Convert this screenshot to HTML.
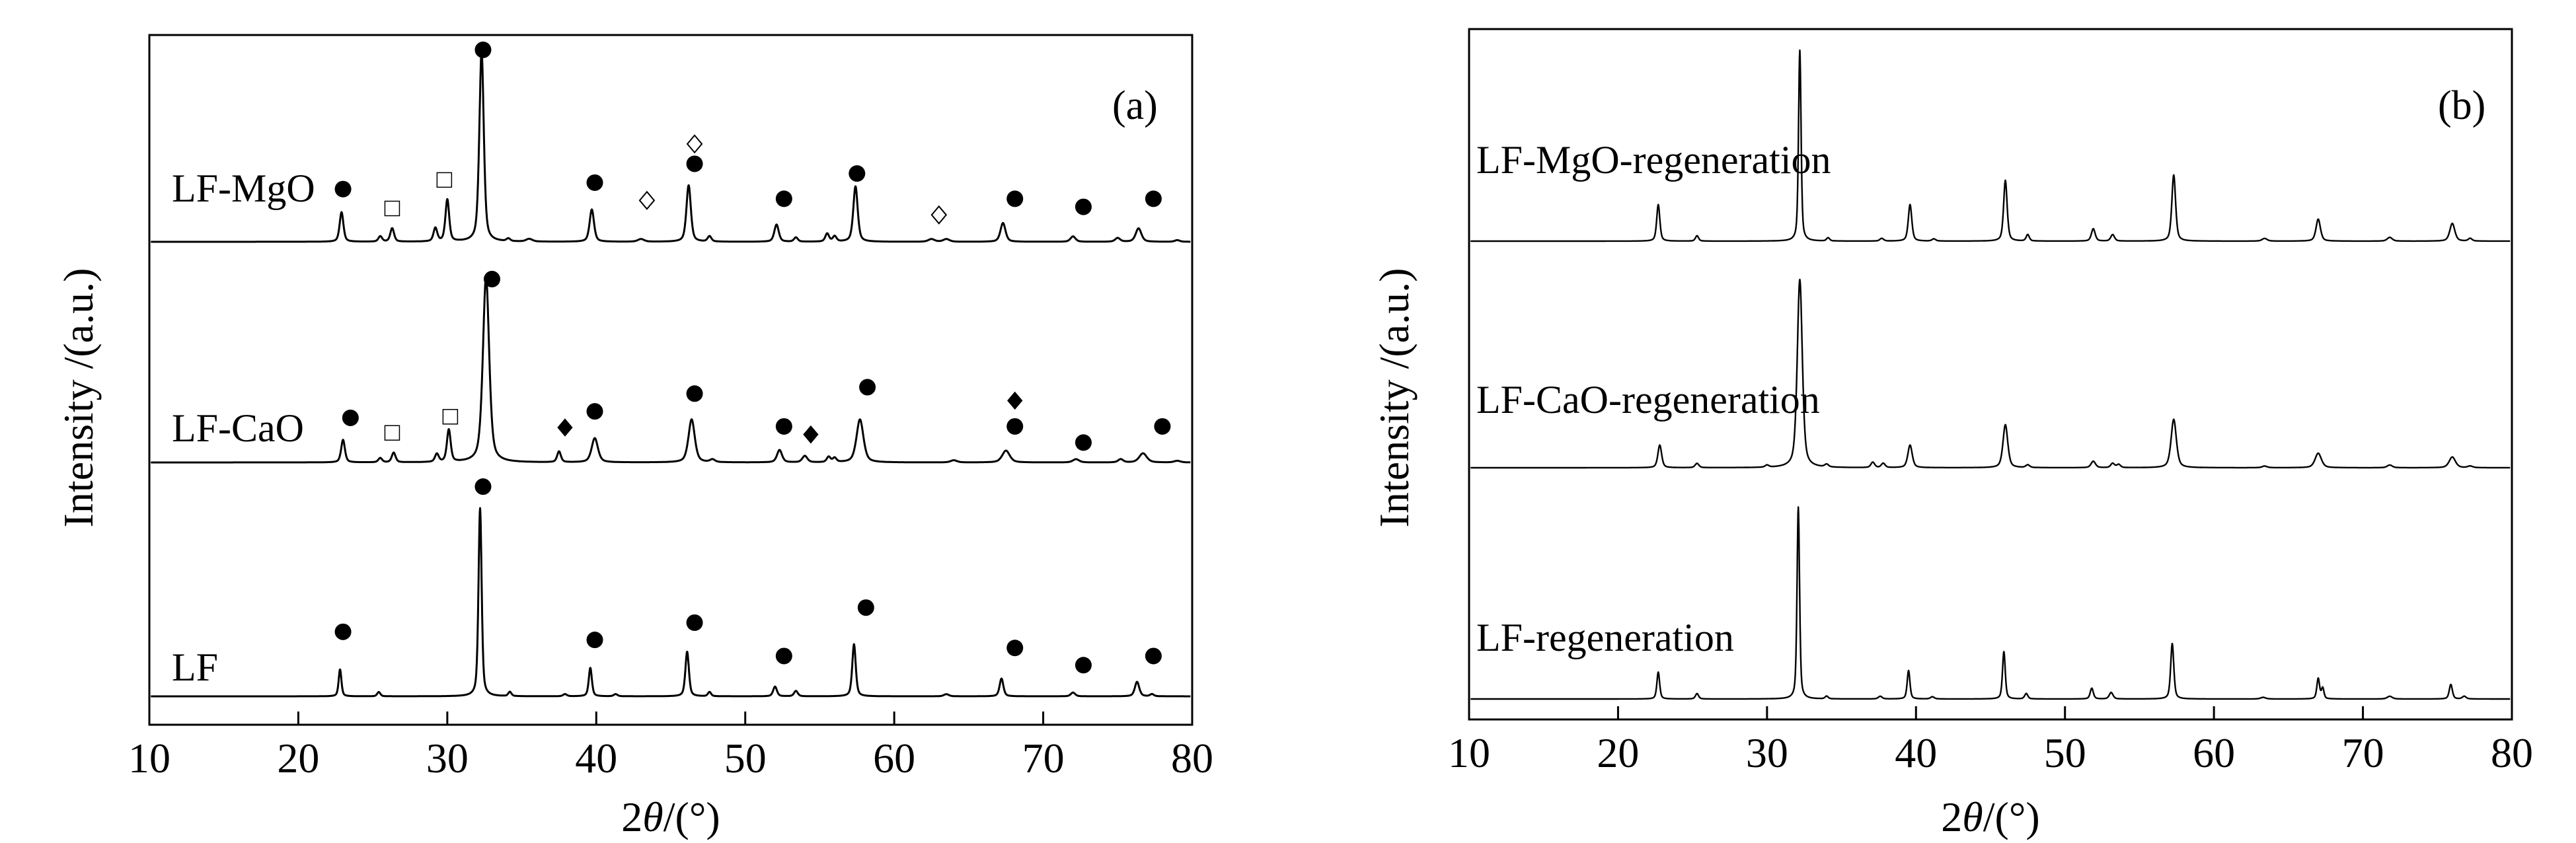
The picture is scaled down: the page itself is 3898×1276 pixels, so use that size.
<!DOCTYPE html>
<html><head><meta charset="utf-8"><style>
html,body{margin:0;padding:0;background:#fff;}
svg{display:block;}
text{font-family:"Liberation Serif",serif;fill:#000;}
</style></head><body>
<svg id="chart" width="3898" height="1276" viewBox="0 0 3898 1276" xmlns="http://www.w3.org/2000/svg">
<g id="pa"></g>
<g id="pb"></g>
</svg>
<script>
// ---- data (2θ positions in degrees; intensities in a.u.; widths FWHM deg) ----
const xTicks = [10,20,30,40,50,60,70,80];
const xTickLabels = ["10","20","30","40","50","60","70","80"];

const mgoPos = [22.9,25.5,26.3,29.2,30.0,32.3,34.1,35.5,39.7,43.0,46.2,47.6,52.1,53.4,55.5,56.0,57.4,62.5,63.5,67.3,72.0,75.0,76.4,79.0];
const mgoInt = [55,10,25,25,78,355,5,5,60,5,105,10,32,8,15,10,103,5,5,35,10,7,25,3];
const mgoWid = [0.3,0.3,0.3,0.3,0.3,0.35,0.3,0.5,0.35,0.5,0.35,0.3,0.35,0.3,0.3,0.3,0.35,0.5,0.5,0.4,0.4,0.4,0.45,0.4];

const caoPos = [23.0,25.5,26.4,29.3,30.1,32.6,37.5,39.9,46.4,47.8,52.3,54.0,55.6,56.0,57.7,64.0,67.5,72.2,75.2,76.7,79.0];
const caoInt = [42,8,18,15,60,345,20,45,80,5,23,12,10,8,80,4,22,6,6,17,3];
const caoWid = [0.3,0.3,0.3,0.3,0.3,0.5,0.3,0.5,0.5,0.4,0.4,0.4,0.3,0.3,0.55,0.5,0.6,0.5,0.4,0.6,0.5];

const lfPos = [22.8,25.4,32.2,34.2,37.9,39.6,41.3,46.1,47.6,52.0,53.4,57.3,63.5,67.2,72.0,76.3,77.3];
const lfInt = [50,8,350,8,4,53,4,83,8,18,10,97,4,33,7,27,4];
const lfWid = [0.22,0.25,0.25,0.25,0.3,0.25,0.3,0.28,0.25,0.3,0.3,0.28,0.4,0.3,0.35,0.35,0.3];

const mgoRPos = [22.7,25.3,32.2,34.1,37.7,39.6,41.2,46.0,47.5,51.9,53.2,57.3,63.4,67.0,71.8,76.0,77.2];
const mgoRInt = [68,10,355,6,5,68,4,113,12,23,12,123,5,41,7,33,5];
const mgoRWid = [0.25,0.25,0.2,0.25,0.3,0.28,0.3,0.28,0.25,0.3,0.3,0.3,0.4,0.35,0.4,0.4,0.3];

const caoRPos = [22.8,25.3,30.0,32.2,34.0,37.1,37.8,39.6,46.0,47.5,51.9,53.2,53.6,57.3,63.4,67.0,71.8,76.0,77.2];
const caoRInt = [42,8,4,350,5,10,8,42,80,5,12,8,6,90,3,27,5,20,3];
const caoRWid = [0.3,0.3,0.3,0.4,0.3,0.3,0.3,0.35,0.38,0.3,0.35,0.3,0.3,0.42,0.4,0.5,0.4,0.5,0.4];

const lfRPos = [22.7,25.3,32.1,34.0,37.6,39.5,41.1,45.9,47.4,51.8,53.1,57.2,63.3,67.0,67.3,71.8,75.9,76.8];
const lfRInt = [50,10,357,5,5,53,4,88,10,20,12,103,3,38,20,5,27,5];
const lfRWid = [0.22,0.25,0.2,0.25,0.3,0.22,0.3,0.22,0.25,0.25,0.3,0.25,0.4,0.22,0.2,0.4,0.25,0.3];

// phase markers: [2θ, level (a.u. above baseline), type]
const mgoMarkers = [[23.0,98,"c"],[26.3,62,"s"],[29.8,115,"s"],[32.4,357,"c"],[39.9,110,"c"],[43.4,77,"d"],[46.6,182,"d"],[46.6,145,"c"],[52.6,80,"c"],[57.5,127,"c"],[63.0,50,"d"],[68.1,80,"c"],[72.7,65,"c"],[77.4,80,"c"]];
const caoMarkers = [[23.5,83,"c"],[26.3,55,"s"],[30.2,85,"s"],[33.0,341,"c"],[37.9,65,"f"],[39.9,95,"c"],[46.6,128,"c"],[52.6,67,"c"],[54.4,52,"f"],[58.2,140,"c"],[68.1,115,"f"],[68.1,67,"c"],[72.7,37,"c"],[78.0,67,"c"]];
const lfMarkers = [[23.0,120,"c"],[32.4,390,"c"],[39.9,105,"c"],[46.6,137,"c"],[52.6,75,"c"],[58.1,165,"c"],[68.1,90,"c"],[72.7,58,"c"],[77.4,75,"c"]];

// ---- drawing ----
const NS = "http://www.w3.org/2000/svg";
function mk(parent, tag, attrs){ const e=document.createElementNS(NS,tag); for(const k in attrs) e.setAttribute(k,attrs[k]); parent.appendChild(e); return e; }
const YS = 0.814; // px per a.u.

function profile(pos,ints,wids,x){
  let s=0;
  for(let i=0;i<pos.length;i++){ const d=(x-pos[i])/(wids[i]/2); s+=ints[i]*(0.5/(1+d*d)+0.5*Math.exp(-0.693*d*d)); }
  return s;
}

function drawPanel(g, L, R, T, B, series, tag, tagX, titleX, labelX){
  const xs = v => L + (v-10)/70*(R-L);
  const fr = mk(g,"rect",{x:L,y:T,width:R-L,height:B-T,fill:"none",stroke:"#000","stroke-width":3});
  
  
  xTicks.forEach((t,i)=>{
    const tk = mk(g,"line",{x1:xs(t),x2:xs(t),y1:B,y2:B-20,stroke:"#000","stroke-width":3});
    
    
    const tl = mk(g,"text",{x:xs(t),y:B+72,"text-anchor":"middle","font-size":64});
    tl.textContent = xTickLabels[i];
    
    
  });
  const xt = mk(g,"text",{x:(L+R)/2,y:1258,"text-anchor":"middle","font-size":64});
  xt.innerHTML = '2<tspan font-style="italic">θ</tspan>/(°)';
  
  
  const yt = mk(g,"text",{x:0,y:0,"text-anchor":"middle","font-size":64,transform:`translate(${titleX},602) rotate(-90)`});
  yt.textContent = "Intensity /(a.u.)";
  
  
  const pt = mk(g,"text",{x:tagX,y:180,"font-size":62});
  pt.textContent = tag;
  
  
  series.forEach(s=>{
    let d="";
    for(let x=10.1;x<=79.9;x+=0.02){
      const y = s.base - profile(s.pos,s.ints,s.wids,x)*YS;
      d += (d?"L":"M")+xs(x).toFixed(1)+","+y.toFixed(1);
    }
    const p = mk(g,"path",{d:d,fill:"none",stroke:"#000","stroke-width":s.sw||3,"stroke-linejoin":"round"});
    
    
    const lb = mk(g,"text",{x:labelX,y:s.labelY,"font-size":60});
    lb.textContent = s.label;
    
    
    (s.markers||[]).forEach(m=>{
      const cx=xs(m[0]), cy=s.base-m[1]*YS; let e;
      if(m[2]==="c") e=mk(g,"circle",{cx:cx,cy:cy,r:12.5,fill:"#000"});
      else if(m[2]==="s") e=mk(g,"rect",{x:cx-11,y:cy-11,width:22,height:22,fill:"#fff",stroke:"#000","stroke-width":1.5});
      else { const f=m[2]==="f"; e=mk(g,"polygon",{points:`${cx},${cy-13} ${cx+11},${cy} ${cx},${cy+13} ${cx-11},${cy}`,fill:f?"#000":"#fff",stroke:"#000","stroke-width":f?1:2}); }
      
      
    });
  });
}

drawPanel(document.getElementById("pa"),226,1804,53,1097,[
  {id:"lf-mgo",label:"LF-MgO",base:366,labelY:305,pos:mgoPos,ints:mgoInt,wids:mgoWid,markers:mgoMarkers},
  {id:"lf-cao",label:"LF-CaO",base:700,labelY:668,pos:caoPos,ints:caoInt,wids:caoWid,markers:caoMarkers},
  {id:"lf",label:"LF",base:1054,labelY:1030,pos:lfPos,ints:lfInt,wids:lfWid,markers:lfMarkers}
],"(a)",1683,140,260);

drawPanel(document.getElementById("pb"),2223,3801,44,1089,[
  {id:"lf-mgo-regeneration",label:"LF-MgO-regeneration",base:365,labelY:262,pos:mgoRPos,ints:mgoRInt,wids:mgoRWid,sw:2.4},
  {id:"lf-cao-regeneration",label:"LF-CaO-regeneration",base:708,labelY:625,pos:caoRPos,ints:caoRInt,wids:caoRWid,sw:2.4},
  {id:"lf-regeneration",label:"LF-regeneration",base:1058,labelY:985,pos:lfRPos,ints:lfRInt,wids:lfRWid,sw:2.4}
],"(b)",3689,2131,2234);
</script>
</body></html>
